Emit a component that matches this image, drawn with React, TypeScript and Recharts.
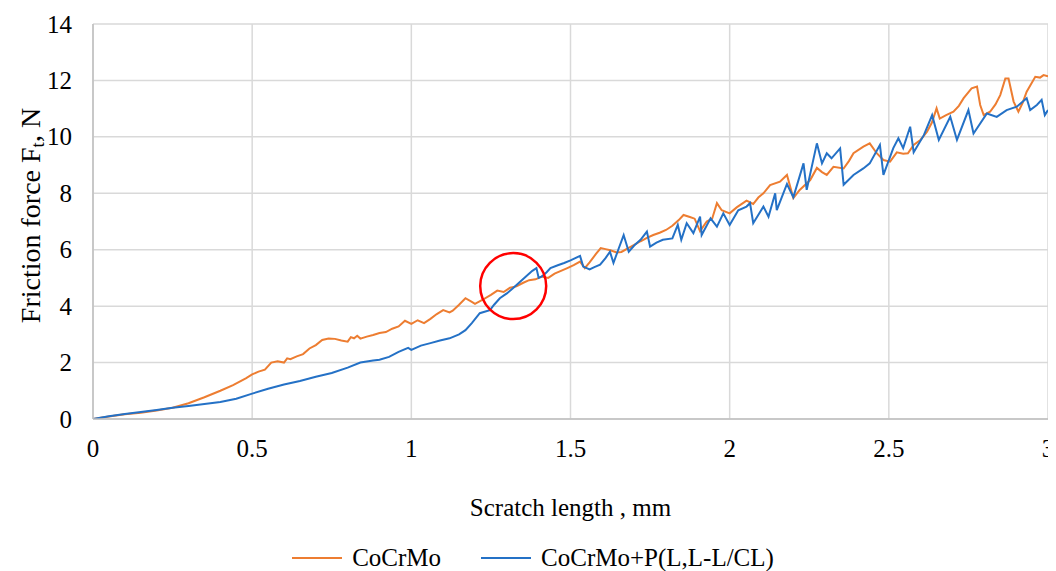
import React from 'react';
import { LineChart, Line, XAxis, YAxis, CartesianGrid, Legend, ReferenceDot } from 'recharts';

// Scratch length (mm) and friction force (N)
const cocrmoLength = [
  0, 0.05, 0.1, 0.15, 0.2, 0.25, 0.3, 0.35, 0.4, 0.44, 0.48, 0.5, 0.52, 0.54, 0.56, 0.58, 0.6, 0.61, 0.62, 0.64,
  0.66, 0.68, 0.7, 0.72, 0.74, 0.76, 0.78, 0.8, 0.81, 0.82, 0.83, 0.84, 0.86, 0.88, 0.9, 0.92, 0.94, 0.96, 0.98, 1.0,
  1.02, 1.04, 1.06, 1.08, 1.1, 1.12, 1.13, 1.15, 1.17, 1.19, 1.2, 1.22, 1.25, 1.27, 1.29, 1.31, 1.33, 1.35, 1.37, 1.39,
  1.41, 1.43, 1.45, 1.47, 1.49, 1.51, 1.53, 1.545, 1.56, 1.58, 1.595, 1.61, 1.625, 1.645, 1.66, 1.68, 1.7, 1.72, 1.74, 1.76,
  1.78, 1.8, 1.82, 1.84, 1.855, 1.875, 1.89, 1.907, 1.928, 1.945, 1.96, 1.975, 2.0, 2.022, 2.053, 2.074, 2.09, 2.106, 2.127, 2.158,
  2.18, 2.2, 2.22, 2.253, 2.274, 2.29, 2.305, 2.326, 2.358, 2.375, 2.389, 2.42, 2.44, 2.462, 2.483, 2.504, 2.525, 2.545, 2.56, 2.578,
  2.6, 2.62, 2.635, 2.65, 2.66, 2.68, 2.703, 2.72, 2.735, 2.76, 2.777, 2.787, 2.798, 2.818, 2.835, 2.85, 2.866, 2.876, 2.892, 2.907,
  2.92, 2.933, 2.96, 2.975, 2.986, 3.0,
];
const cocrmoForce = [
  0, 0.09, 0.17, 0.22, 0.3, 0.4, 0.56, 0.77, 1.0, 1.2, 1.44, 1.58, 1.68, 1.75, 2.0, 2.05, 2.0, 2.15, 2.12, 2.22,
  2.3, 2.5, 2.62, 2.8, 2.85, 2.84, 2.78, 2.74, 2.9, 2.86, 2.95, 2.85, 2.92, 2.98, 3.05, 3.08, 3.2, 3.28, 3.48, 3.37,
  3.5, 3.4, 3.55, 3.72, 3.86, 3.78, 3.84, 4.05, 4.28, 4.15, 4.08, 4.2, 4.4, 4.55, 4.5, 4.65, 4.7, 4.82, 4.92, 4.95,
  5.05, 5.0, 5.15, 5.25, 5.35, 5.45, 5.58, 5.35, 5.55, 5.85, 6.06, 6.02, 5.98, 5.9, 5.92, 6.05, 6.17, 6.3, 6.42, 6.52,
  6.6, 6.7, 6.85, 7.05, 7.23, 7.16, 7.1, 6.66, 7.0, 7.1, 7.65, 7.4, 7.29, 7.5, 7.74, 7.62, 7.85, 8.0, 8.29, 8.41,
  8.65, 7.83, 8.12, 8.47, 8.9, 8.75, 8.65, 8.94, 8.88, 9.15, 9.42, 9.65, 9.77, 9.42, 9.18, 9.12, 9.45, 9.4, 9.42, 9.71,
  9.9, 10.18, 10.5, 11.01, 10.65, 10.77, 10.89, 11.1, 11.37, 11.72, 11.78, 11.13, 10.77, 10.89, 11.15, 11.48, 12.07, 12.07, 11.25, 10.89,
  11.2, 11.6, 12.13, 12.1, 12.19, 12.15,
];

const coatedLength = [
  0, 0.05, 0.1, 0.15, 0.2, 0.25, 0.3, 0.35, 0.4, 0.45, 0.5, 0.55, 0.6, 0.65, 0.7, 0.75, 0.8, 0.84, 0.88, 0.9,
  0.93, 0.96, 0.99, 1.0, 1.03, 1.06, 1.09, 1.12, 1.15, 1.17, 1.19, 1.215, 1.23, 1.247, 1.26, 1.278, 1.3, 1.32, 1.34, 1.36,
  1.38, 1.393, 1.4, 1.41, 1.425, 1.437, 1.46, 1.48, 1.5, 1.515, 1.53, 1.54, 1.56, 1.575, 1.593, 1.61, 1.624, 1.635, 1.65, 1.667,
  1.683, 1.7, 1.72, 1.74, 1.75, 1.77, 1.79, 1.82, 1.837, 1.848, 1.865, 1.886, 1.907, 1.912, 1.94, 1.96, 1.98, 2.0, 2.027, 2.053,
  2.064, 2.074, 2.106, 2.122, 2.143, 2.148, 2.18, 2.2, 2.232, 2.242, 2.274, 2.29, 2.305, 2.32, 2.347, 2.358, 2.389, 2.42, 2.44, 2.472,
  2.483, 2.514, 2.53, 2.545, 2.567, 2.578, 2.61, 2.636, 2.657, 2.693, 2.714, 2.75, 2.766, 2.808, 2.839, 2.87, 2.902, 2.933, 2.944, 2.965,
  2.98, 2.99, 3.0,
];
const coatedForce = [
  0, 0.1, 0.18, 0.25, 0.32, 0.4, 0.46, 0.53, 0.6, 0.72, 0.9, 1.07, 1.22, 1.35, 1.5, 1.63, 1.82, 2.0, 2.07, 2.1,
  2.2, 2.38, 2.52, 2.45, 2.6, 2.69, 2.78, 2.86, 3.0, 3.15, 3.4, 3.75, 3.8, 3.86, 4.05, 4.28, 4.45, 4.64, 4.85, 5.05,
  5.25, 5.35, 5.0, 5.05, 5.2, 5.35, 5.45, 5.53, 5.62, 5.7, 5.78, 5.4, 5.3, 5.38, 5.47, 5.7, 5.93, 5.53, 6.0, 6.52,
  5.93, 6.15, 6.35, 6.64, 6.11, 6.25, 6.35, 6.4, 6.88, 6.35, 6.94, 6.59, 7.17, 6.52, 7.11, 6.82, 7.29, 6.88, 7.4, 7.53,
  7.65, 6.94, 7.53, 7.17, 8.0, 7.4, 8.33, 7.86, 9.06, 8.12, 9.77, 9.06, 9.42, 9.24, 9.59, 8.3, 8.65, 8.88, 9.06, 9.71,
  8.65, 9.6, 9.95, 9.6, 10.36, 9.45, 10.06, 10.77, 9.89, 10.71, 9.89, 10.95, 10.12, 10.83, 10.71, 10.95, 11.07, 11.37, 10.95, 11.13,
  11.31, 10.77, 10.95,
];

const xTicks = [0, 0.5, 1, 1.5, 2, 2.5, 3];
const yTicks = [0, 2, 4, 6, 8, 10, 12, 14];
const seriesNames = ['CoCrMo', 'CoCrMo+P(L,L-L/CL)'];
const seriesColors = ['#ED7D31', '#2471C6'];
const highlight = { x: 1.32, y: 4.71 };

const cocrmoData = cocrmoLength.map((x, i) => ({ x, y: cocrmoForce[i] }));
const coatedData = coatedLength.map((x, i) => ({ x, y: coatedForce[i] }));

const FONT = '"Liberation Serif", "Times New Roman", serif';

const YLabel = (props: any) => {
  const vb = props.viewBox || {};
  const cx = vb.x + vb.width - 63;
  const cy = vb.y + vb.height / 2 - 6;
  return (
    <text
      x={cx}
      y={cy}
      transform={`rotate(-90, ${cx}, ${cy})`}
      textAnchor="middle"
      dominantBaseline="central"
      fontFamily={FONT}
      fontSize={28}
      fill="#000"
    >
      Friction force F
      <tspan dy={7} fontSize={19}>t</tspan>
      <tspan dy={-7}>,{'\u00A0'}N</tspan>
    </text>
  );
};

const XLabel = (props: any) => {
  const vb = props.viewBox || {};
  return (
    <text
      x={vb.x + vb.width / 2}
      y={vb.y + 88}
      textAnchor="middle"
      dominantBaseline="central"
      fontFamily={FONT}
      fontSize={25}
      fill="#000"
    >
      Scratch length , mm
    </text>
  );
};

const AxisTick = (props: any) => {
  const { x, y, payload, textAnchor, orientation } = props;
  const isX = orientation === 'bottom';
  return (
    <text
      x={x}
      y={y}
      dy={isX ? 18 : 0}
      textAnchor={textAnchor}
      dominantBaseline={isX ? 'auto' : 'central'}
      fontFamily={FONT}
      fontSize={25}
      fill="#000"
    >
      {payload.value}
    </text>
  );
};

const LegendContent = () => (
  <div
    style={{
      display: 'flex',
      justifyContent: 'center',
      alignItems: 'center',
      height: 26,
      fontFamily: FONT,
      fontSize: 25,
      color: '#000',
      paddingLeft: 10,
    }}
  >
    {seriesNames.map((name, i) => (
      <div key={name} style={{ display: 'flex', alignItems: 'center', marginRight: i === 0 ? 40 : 0 }}>
        <div style={{ width: 50, height: 2, background: seriesColors[i], marginRight: 10 }} />
        <span style={{ lineHeight: '26px' }}>{name}</span>
      </div>
    ))}
  </div>
);

export default function App() {
  return (
    <div style={{ width: 1048, height: 563, background: '#fff', fontFamily: FONT }}>
      <LineChart width={1048} height={563} margin={{ top: 16, right: 8, bottom: 0, left: 0 }} style={{ fontFamily: FONT }}>
        <CartesianGrid stroke="#d9d9d9" strokeWidth={1.5} />
        <XAxis
          type="number"
          dataKey="x"
          domain={[0, 3]}
          ticks={xTicks}
          interval={0}
          height={126}
          tickSize={0}
          tickMargin={20}
          axisLine={{ stroke: '#bfbfbf', strokeWidth: 1.5 }}
          tick={<AxisTick />}
          label={<XLabel />}
          allowDataOverflow
        />
        <YAxis
          type="number"
          domain={[0, 14]}
          ticks={yTicks}
          interval={0}
          width={85}
          tickSize={0}
          tickMargin={21}
          axisLine={{ stroke: '#bfbfbf', strokeWidth: 1.5 }}
          tick={<AxisTick />}
          label={<YLabel />}
          allowDataOverflow
        />
        <Legend verticalAlign="bottom" content={<LegendContent />} />
        <Line
          data={cocrmoData}
          dataKey="y"
          name={seriesNames[0]}
          type="linear"
          stroke={seriesColors[0]}
          strokeWidth={2}
          dot={false}
          isAnimationActive={false}
        />
        <Line
          data={coatedData}
          dataKey="y"
          name={seriesNames[1]}
          type="linear"
          stroke={seriesColors[1]}
          strokeWidth={2}
          dot={false}
          isAnimationActive={false}
        />
        <ReferenceDot
          x={highlight.x}
          y={highlight.y}
          r={33}
          fill="none"
          stroke="#FF0000"
          strokeWidth={2.5}
        />
      </LineChart>
    </div>
  );
}
